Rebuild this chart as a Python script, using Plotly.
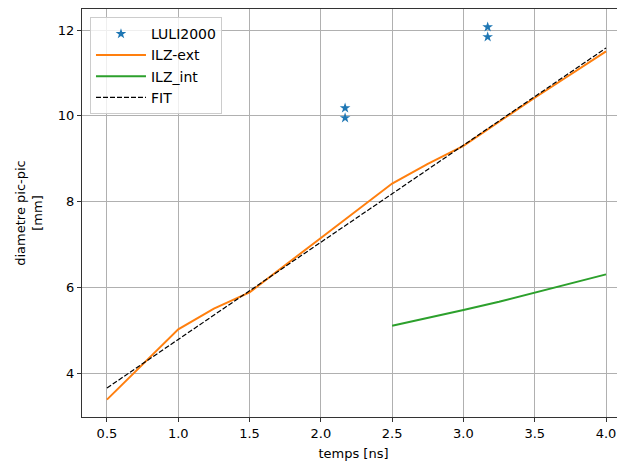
import plotly.graph_objects as go

# Data
luli_t = [2.17, 2.17, 3.17, 3.17]
luli_d = [10.18, 9.95, 12.07, 11.84]

ext_t = [0.5, 1.0, 1.25, 1.5, 2.0, 2.5, 2.75, 3.0, 3.5, 4.0]
ext_d = [3.38, 5.02, 5.5, 5.88, 7.15, 8.42, 8.88, 9.3, 10.42, 11.5]

int_t = [2.5, 2.75, 3.0, 3.25, 3.5, 3.75, 4.0]
int_d = [5.1, 5.28, 5.47, 5.66, 5.87, 6.08, 6.3]

fit_t = [0.5, 1.0, 1.5, 2.0, 2.5, 3.0, 3.5, 4.0]
fit_d = [3.65, 4.79, 5.92, 7.05, 8.18, 9.32, 10.45, 11.58]

xticks = [0.5, 1.0, 1.5, 2.0, 2.5, 3.0, 3.5, 4.0]
yticks = [4, 6, 8, 10, 12]

FONT = "DejaVu Sans"

fig = go.Figure()
fig.add_trace(go.Scatter(x=luli_t, y=luli_d, mode="markers", name="LULI2000",
                         marker=dict(symbol="star", size=8, color="#1f77b4",
                                     line=dict(width=0))))
fig.add_trace(go.Scatter(x=ext_t, y=ext_d, mode="lines", name="ILZ-ext",
                         line=dict(color="#ff7f0e", width=2)))
fig.add_trace(go.Scatter(x=int_t, y=int_d, mode="lines", name="ILZ_int",
                         line=dict(color="#2ca02c", width=2)))
fig.add_trace(go.Scatter(x=fit_t, y=fit_d, mode="lines", name="FIT",
                         line=dict(color="black", width=1.2, dash="5px,2px")))

# page body has an 8px margin, so the figure is offset by (8, 8)
fig.update_layout(
    width=617, height=454,
    margin=dict(l=74, r=0, t=1, b=45),
    paper_bgcolor="white", plot_bgcolor="white",
    font=dict(family=FONT, size=13, color="black"),
    showlegend=True,
    legend=dict(x=0.0147, y=0.98, xanchor="left", yanchor="top",
                bgcolor="rgba(255,255,255,0.8)", bordercolor="#cccccc", borderwidth=1,
                font=dict(family=FONT, size=14), itemwidth=50,
                tracegroupgap=0),
)
fig.update_xaxes(
    range=[0.325, 4.133], tickvals=xticks, ticktext=[f"{v:.1f}" for v in xticks],
    automargin=False,
    showgrid=True, gridcolor="#b0b0b0", gridwidth=0.8,
    showline=True, linecolor="#333333", linewidth=1.2, mirror=True,
    ticks="outside", ticklen=4, tickcolor="#333333",
    zeroline=False, tickfont=dict(size=13),
    title=dict(text="temps [ns]", font=dict(family=FONT, size=13), standoff=9),
)
fig.update_yaxes(
    range=[2.974, 12.49], tickvals=yticks, ticktext=[str(v) for v in yticks],
    automargin=False,
    showgrid=True, gridcolor="#b0b0b0", gridwidth=0.8,
    showline=True, linecolor="#333333", linewidth=1.2, mirror=False,
    ticks="outside", ticklen=4, tickcolor="#333333",
    zeroline=False, tickfont=dict(size=13),
    title=dict(text="diametre pic-pic<br>[mm]", font=dict(family=FONT, size=13), standoff=12),
)

fig.write_html("out.html")
